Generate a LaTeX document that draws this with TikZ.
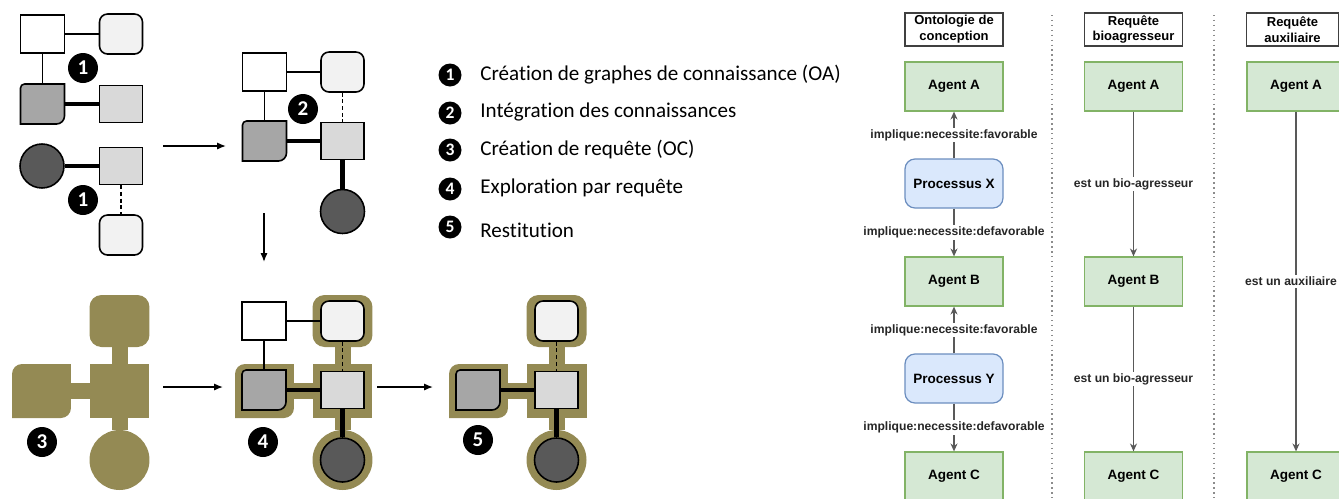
\documentclass[tikz,border=0pt]{standalone}
\usepackage{fontspec}
\setmainfont{Carlito}[Ligatures=NoCommon]
\newfontfamily\diofont{Liberation Sans}
\usetikzlibrary{positioning, calc, arrows.meta}

\definecolor{qgold}{HTML}{948A54}
\definecolor{gpale}{HTML}{F2F2F2}
\definecolor{glight}{HTML}{D9D9D9}
\definecolor{gmid}{HTML}{A6A6A6}
\definecolor{gdark}{HTML}{595959}
\definecolor{agfill}{HTML}{D5E8D4}
\definecolor{agline}{HTML}{82B366}
\definecolor{prfill}{HTML}{DAE8FC}
\definecolor{prline}{HTML}{6C8EBF}

% box over a node, top-left and bottom-right corners rounded
\newcommand{\roundiag}[4]{%
  \path[#2] (#1.north east) -- ([yshift=#4]#1.south east)
    arc[start angle=0, end angle=-90, radius=#4] -- (#1.south west)
    -- ([yshift=-#3]#1.north west)
    arc[start angle=180, end angle=90, radius=#3] -- cycle;}

\tikzset{
  wbox/.style={rectangle, draw, fill=white, line width=0.9pt, inner sep=0pt,
    minimum width=0.88cm, minimum height=0.76cm},
  lbox/.style={wbox, fill=glight, minimum width=0.86cm, minimum height=0.74cm},
  pbox/.style={wbox, fill=gpale, rounded corners=0.16cm, minimum width=0.86cm, minimum height=0.8cm},
  gspot/.style={rectangle, inner sep=0pt, outer sep=0pt, minimum width=0.88cm, minimum height=0.8cm},
  cnode/.style={circle, draw, fill=gdark, line width=0.9pt, minimum size=0.88cm, inner sep=0pt},
  hbox/.style={rectangle, fill=qgold, inner sep=0pt, outer sep=0pt, minimum width=1.2cm, minimum height=1.08cm},
  hround/.style={hbox, rounded corners=0.24cm, minimum height=1.04cm},
  hcirc/.style={circle, fill=qgold, minimum size=1.2cm, inner sep=0pt, outer sep=0pt},
  hlink/.style={qgold, line width=0.32cm},
  wire/.style={line width=0.9pt},
  bond/.style={line width=2.6pt},
  hint/.style={line width=0.9pt, dash pattern=on 2.2pt off 1.6pt},
  badge/.style={circle, fill=black, text=white, inner sep=0pt, minimum size=0.6cm,
    font=\bfseries\fontsize{12}{12}\selectfont},
  keybadge/.style={badge, minimum size=0.46cm, font=\bfseries\fontsize{10}{10}\selectfont},
  keytext/.style={anchor=base west, inner sep=0pt, font=\fontsize{12}{14}\selectfont},
  flow/.style={-{Latex[length=5pt,width=4pt]}, line width=0.8pt},
  head/.style={draw=black!75, fill=white, line width=0.7pt, align=center, inner sep=0pt,
    minimum width=1.96cm, minimum height=0.66cm, font=\diofont\bfseries\fontsize{7.4}{9}\selectfont},
  agent/.style={draw=agline, fill=agfill, line width=0.7pt, minimum width=1.96cm, minimum height=0.98cm,
    font=\diofont\bfseries\fontsize{7.7}{9}\selectfont},
  proc/.style={agent, draw=prline, fill=prfill, rounded corners=0.2cm},
  rel/.style={draw=black!65, line width=0.7pt, -{Stealth[length=4.5pt,width=4pt]}},
  rlabel/.style={fill=white, inner sep=1pt, text=black!85, font=\diofont\bfseries\fontsize{6.9}{8}\selectfont},
  lane/.style={draw=black!45, dotted, line width=0.8pt}
}

\begin{document}
\begin{tikzpicture}[x=0.02cm, y=-0.02cm]

    \useasboundingbox (0,0) rectangle (1339,498);
    \clip (0,0) rectangle (1339,498);

    % Step 1: two separate knowledge graphs
    \node[wbox] (w1) at (42.5,34) {};
    \node[pbox] (r1) at (121,34) {};
    \node[gspot] (g1) at (42.5,104) {};
    \roundiag{g1}{draw, fill=gmid, line width=0.9pt}{0.08cm}{0.16cm}
    \node[lbox] (s1) at (121,104) {};
    \draw[wire] (w1) -- (r1) (w1) -- (g1);
    \draw[bond] (g1) -- (s1);
    \node[badge] (b1a) at (83,68) {1};

    \node[cnode] (c1) at (42,166) {};
    \node[lbox] (t1) at (121,166) {};
    \node[pbox] (u1) at (121,235) {};
    \draw[bond] (c1) -- (t1);
    \draw[hint] (t1) -- (u1);
    \node[badge] (b1b) at (83,200) {1};

    \coordinate (a1s) at (163,146);
    \coordinate (a1e) at (226,146);
    \draw[flow] (a1s) -- (a1e);

    % Step 2: merged graph
    \node[wbox] (w2) at (264.5,72) {};
    \node[pbox] (r2) at (342.5,72) {};
    \node[gspot] (g2) at (264.5,141) {};
    \roundiag{g2}{draw, fill=gmid, line width=0.9pt}{0.08cm}{0.16cm}
    \node[lbox] (s2) at (342.5,141) {};
    \node[cnode] (c2) at (342.5,211.5) {};
    \draw[wire] (w2) -- (r2) (w2) -- (g2);
    \draw[hint] (r2) -- (s2);
    \draw[bond] (g2) -- (s2) (s2) -- (c2);
    \node[badge] (b2) at (303,109) {2};

    \coordinate (a2s) at (264,213);
    \coordinate (a2e) at (264,262);
    \draw[flow] (a2s) -- (a2e);

    % Legend
    \node[keybadge] (k1) at (450,75) {1};
    \node[keybadge] (k2) at (450,113) {2};
    \node[keybadge] (k3) at (450,150) {3};
    \node[keybadge] (k4) at (450,189) {4};
    \node[keybadge] (k5) at (450,227) {5};
    \node[keytext] (t-k1) at (480,80) {Création de graphes de connaissance (OA)};
    \node[keytext] (t-k2) at (480,117) {Intégration des connaissances};
    \node[keytext] (t-k3) at (480,155) {Création de requête (OC)};
    \node[keytext] (t-k4) at (480,193) {Exploration par requête};
    \node[keytext] (t-k5) at (480,237) {Restitution};

    % Step 3: the query pattern
    \node[hround] (q-top) at (119.5,321) {};
    \node[hbox] (q-mid) at (119.5,391) {};
    \node[gspot, minimum width=1.18cm, minimum height=1.08cm] (q-left) at (41.5,391) {};
    \roundiag{q-left}{fill=qgold}{0.2cm}{0.2cm}
    \node[hcirc] (q-bot) at (119.5,460) {};
    \draw[hlink] (q-top) -- (q-mid) (q-left) -- (q-mid) (q-mid) -- (q-bot);
    \node[badge] (b3) at (42,442) {3};

    \coordinate (a3s) at (163,387);
    \coordinate (a3e) at (223,387);
    \draw[flow] (a3s) -- (a3e);

    % Step 4: query laid over the graph
    \node[hround] (h4r) at (342.5,321) {};
    \node[hbox] (h4s) at (342.5,391) {};
    \node[gspot, minimum width=1.18cm, minimum height=1.08cm] (h4g) at (264.5,391) {};
    \roundiag{h4g}{fill=qgold}{0.2cm}{0.2cm}
    \node[hcirc] (h4c) at (342.5,460) {};
    \draw[hlink] (h4r) -- (h4s) (h4g) -- (h4s) (h4s) -- (h4c);

    \node[wbox] (w4) at (264,321) {};
    \node[pbox] (r4) at (342.5,321) {};
    \node[gspot] (g4) at (264,390) {};
    \roundiag{g4}{draw, fill=gmid, line width=0.9pt}{0.08cm}{0.16cm}
    \node[lbox] (s4) at (342.5,390) {};
    \node[cnode] (c4) at (342.5,460) {};
    \draw[wire] (w4) -- (r4) (w4) -- (g4);
    \draw[hint] (r4) -- (s4);
    \draw[bond] (g4) -- (s4) (s4) -- (c4);
    \node[badge] (b4) at (263,442) {4};

    \coordinate (a4s) at (377,387);
    \coordinate (a4e) at (433,387);
    \draw[flow] (a4s) -- (a4e);

    % Step 5: matched sub-graph only
    \node[hround] (h5r) at (556.5,321) {};
    \node[hbox] (h5s) at (556.5,391) {};
    \node[gspot, minimum width=1.18cm, minimum height=1.08cm] (h5g) at (478.5,391) {};
    \roundiag{h5g}{fill=qgold}{0.2cm}{0.2cm}
    \node[hcirc] (h5c) at (556.5,460) {};
    \draw[hlink] (h5r) -- (h5s) (h5g) -- (h5s) (h5s) -- (h5c);

    \node[pbox] (r5) at (556.5,321) {};
    \node[gspot] (g5) at (478,390) {};
    \roundiag{g5}{draw, fill=gmid, line width=0.9pt}{0.08cm}{0.16cm}
    \node[lbox] (s5) at (556.5,390) {};
    \node[cnode] (c5) at (556.5,460) {};
    \draw[hint] (r5) -- (s5);
    \draw[bond] (g5) -- (s5) (s5) -- (c5);
    \node[badge] (b5) at (478,440) {5};

    % Lane separators
    \draw[lane] (1052,15) -- (1052,498);
    \draw[lane] (1214,15) -- (1214,498);

    % Design ontology lane
    \node[head] (o-h) at (954,29.5) {Ontologie de\\conception};
    \node[agent] (o-a) at (954,86.5) {Agent A};
    \node[proc] (o-x) at (954,183.5) {Processus X};
    \node[agent] (o-b) at (954,281.5) {Agent B};
    \node[proc] (o-y) at (954,378.5) {Processus Y};
    \node[agent] (o-c) at (954,476.5) {Agent C};
    \draw[rel] (o-x) -- node[rlabel] {implique:necessite:favorable} (o-a);
    \draw[rel] (o-x) -- node[rlabel] {implique:necessite:defavorable} (o-b);
    \draw[rel] (o-y) -- node[rlabel] {implique:necessite:favorable} (o-b);
    \draw[rel] (o-y) -- node[rlabel] {implique:necessite:defavorable} (o-c);

    % Pest query lane
    \node[head] (p-h) at (1133.5,29.5) {Requête\\bioagresseur};
    \node[agent] (p-a) at (1133.5,86.5) {Agent A};
    \node[agent] (p-b) at (1133.5,281.5) {Agent B};
    \node[agent] (p-c) at (1133.5,476.5) {Agent C};
    \draw[rel] (p-a) -- node[rlabel] {est un bio-agresseur} (p-b);
    \draw[rel] (p-b) -- node[rlabel] {est un bio-agresseur} (p-c);

    % Auxiliary query lane
    \node[head, minimum width=1.83cm] (x-h) at (1292.5,29.5) {Requête\\auxiliaire};
    \node[agent] (x-a) at (1296,86.5) {Agent A};
    \node[agent] (x-c) at (1296,476.5) {Agent C};
    \draw[rel] (x-a) -- node[rlabel, xshift=-0.1cm] {est un auxiliaire} (x-c);

\end{tikzpicture}
\end{document}
